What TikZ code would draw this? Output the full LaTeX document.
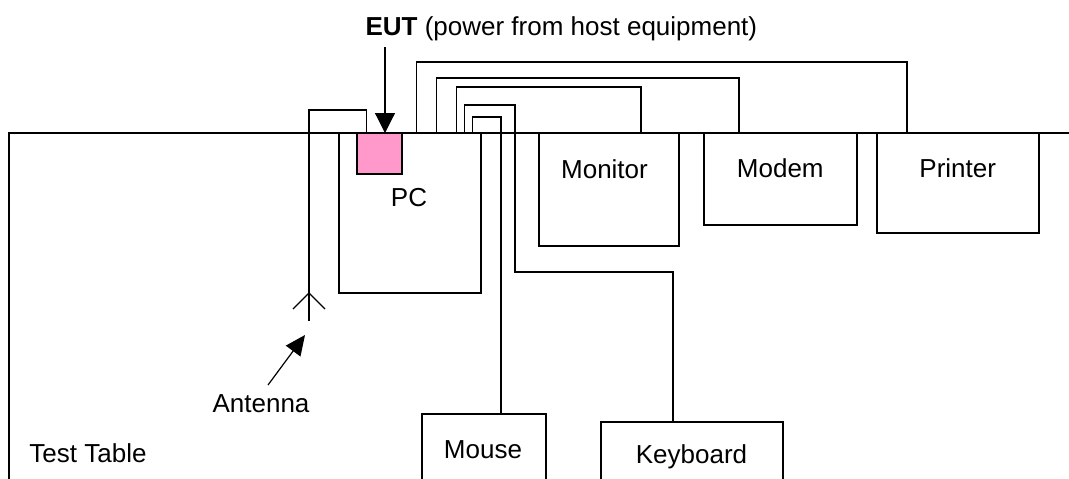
\documentclass[tikz,border=0pt]{standalone}
\usepackage{fontspec}
\setmainfont{Liberation Sans}
\usetikzlibrary{arrows.meta,calc}
\begin{document}
\begin{tikzpicture}[x=1pt,y=-1pt,
  line width=1.2pt,
  boxn/.style={draw,rectangle,inner sep=0pt,minimum width=#1},
  lbl/.style={font=\fontsize{26}{30}\selectfont,inner sep=0pt,anchor=base},
  bigarrow/.style={-{Triangle[width=20pt,length=20pt]}}]
\useasboundingbox (0,0) rectangle (1069,479);
\clip (0,0) rectangle (1069,479);
% table
\draw (1069,133) -- (9,133) -- (9,479);
\node[lbl,anchor=base] (tt) at (88,462) {Test Table};
% boxes
\node[boxn=142,minimum height=160] (pc) at (410,213) {};
\node[boxn=45,minimum height=41,fill={rgb,255:red,255;green,153;blue,204}] (eut) at (379.5,153.5) {};
\node[boxn=140,minimum height=113] (mon) at (609,189.5) {};
\node[boxn=153,minimum height=92] (mod) at (780.5,179) {};
\node[boxn=162,minimum height=100] (prn) at (958,183) {};
\node[boxn=124,minimum height=100] (mou) at (484,464) {};
\node[boxn=182,minimum height=100] (kbd) at (692,472) {};
% labels
\node[lbl] (pcl) at (409,206) {PC};
\node[lbl] (monl) at (604.5,178) {Monitor};
\node[lbl] (modl) at (780.3,177) {Modem};
\node[lbl] (prnl) at (957.7,177) {Printer};
\node[lbl] (moul) at (483,458) {Mouse};
\node[lbl] (kbdl) at (691.5,463) {Keyboard};
\node[lbl] (antl) at (261,412) {Antenna};
\node[lbl,anchor=base west] (euttext) at (365,35) {\textbf{EUT} (power from host equipment)};
% EUT arrow
\coordinate (eutarrow) at (385,133);
\draw[bigarrow] ($(euttext.south west -| eutarrow)+(0,6)$) -- (eutarrow);
% antenna
\coordinate (ant) at (309,321);
\coordinate (antv) at (309,293);
\draw ($(eut.north west)+(10,0)$) |- (309,110) -- (ant);
\draw (293,309) -- (antv) -- (325,309);
\coordinate (antarrowtail) at (268,385);
\draw[-{Triangle[width=18pt,length=20pt]}] (antarrowtail) -- (305,335);
% cables
\draw ($(pc.north west)+(78,0)$) |- (907,62) -- (prn.north west -| 907,0);
\draw ($(pc.north west)+(98,0)$) |- (739,78) -- (mod.north west -| 739,0);
\draw ($(pc.north west)+(118,0)$) |- (641,87) -- (mon.north -| 641,0);
\draw ($(pc.north west)+(126,0)$) |- (515,105) -- (515,272) -| (kbd.north -| 673,0);
\draw ($(pc.north west)+(134,0)$) |- (501,117) -- (mou.north -| 501,0);
\end{tikzpicture}
\end{document}
